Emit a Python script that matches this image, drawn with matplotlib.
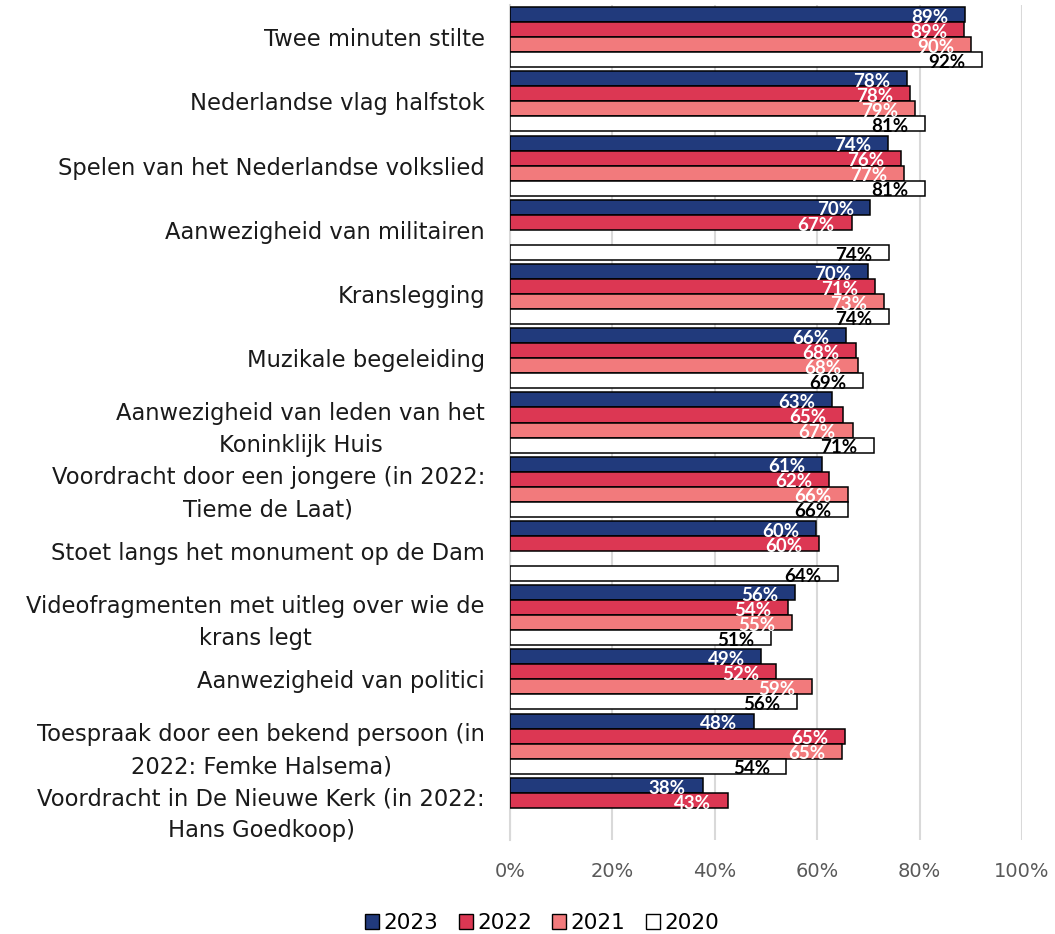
import numpy as np
import matplotlib
matplotlib.use("Agg")
import matplotlib.pyplot as plt
from matplotlib.patches import Patch

nan = np.nan

categories = [
    "Twee minuten stilte",
    "Nederlandse vlag halfstok",
    "Spelen van het Nederlandse volkslied",
    "Aanwezigheid van militairen",
    "Kranslegging",
    "Muzikale begeleiding",
    "Aanwezigheid van leden van het\nKoninklijk Huis",
    "Voordracht door een jongere (in 2022:\nTieme de Laat)",
    "Stoet langs het monument op de Dam",
    "Videofragmenten met uitleg over wie de\nkrans legt",
    "Aanwezigheid van politici",
    "Toespraak door een bekend persoon (in\n2022: Femke Halsema)",
    "Voordracht in De Nieuwe Kerk (in 2022:\nHans Goedkoop)",
]

years = ["2023", "2022", "2021", "2020"]

v2023 = [88.9, 77.6, 73.8, 70.4, 70.0, 65.6, 62.9, 60.9, 59.8, 55.7, 49.1, 47.7, 37.6]
v2022 = [88.6, 78.2, 76.4, 66.7, 71.2, 67.6, 65.1, 62.4, 60.4, 54.2, 52.0, 65.4, 42.6]
v2021 = [90.0, 79.1, 77.0, nan, 73.0, 68.0, 66.9, 66.0, nan, 55.1, 59.0, 64.9, nan]
v2020 = [92.2, 81.1, 81.1, 74.1, 74.1, 69.0, 71.0, 66.0, 64.1, 51.0, 56.1, 54.0, nan]

series = [v2023, v2022, v2021, v2020]
colors = ["#213a7c", "#dc3753", "#f27a7c", "#ffffff"]
text_colors = ["white", "white", "white", "black"]

fig = plt.figure(figsize=(10.55, 9.34), dpi=100)
ax = fig.add_axes([510 / 1055, 1 - 840 / 934, 512 / 1055, 835 / 934])

y = np.arange(len(categories))
h = 0.234
offsets = [-1.5 * h, -0.5 * h, 0.5 * h, 1.5 * h]

for vals, col, tc, off in zip(series, colors, text_colors, offsets):
    vals = np.array(vals, dtype=float)
    ax.barh(y + off, vals / 100, height=h, color=col, edgecolor="black",
            linewidth=1.1, zorder=3)
    for yi, v in zip(y, vals):
        if np.isnan(v):
            continue
        ax.annotate(f"{v:.0f}%", xy=(v / 100, yi + off + h / 2),
                    xytext=(-12, -0.5), textcoords="offset points",
                    ha="right", va="baseline", color=tc, fontsize=13.5,
                    fontweight="bold", family="Lato", zorder=4)

ax.set_xlim(0, 1)
ax.set_ylim(len(categories) - 0.5, -0.5)
ax.set_yticks(y)
ax.set_yticklabels(categories, fontsize=16.3, linespacing=1.5, color="#1a1a1a")
for lab in ax.get_yticklabels():
    lab.set_multialignment("center")
ax.set_xticks(np.arange(0, 1.01, 0.2))
ax.set_xticklabels([f"{t}%" for t in range(0, 101, 20)], fontsize=14,
                   color="#595959")
ax.tick_params(axis="y", length=0, pad=18)
ax.tick_params(axis="x", length=0, pad=16)
ax.grid(axis="x", color="#d9d9d9", linewidth=1.5, zorder=0)
for s in ["top", "right", "bottom"]:
    ax.spines[s].set_visible(False)
ax.spines["left"].set_color("#d9d9d9")
ax.spines["left"].set_linewidth(1.5)

handles = [Patch(facecolor=c, edgecolor="black", linewidth=1.0) for c in colors]
fig.legend(handles, years, loc="center", bbox_to_anchor=(542 / 1055, 1 - 923 / 934),
           ncol=4, frameon=False, fontsize=15.5, handlelength=0.65,
           handleheight=0.65, handletextpad=0.2, columnspacing=0.95)

fig.savefig("out.png", dpi=100)
